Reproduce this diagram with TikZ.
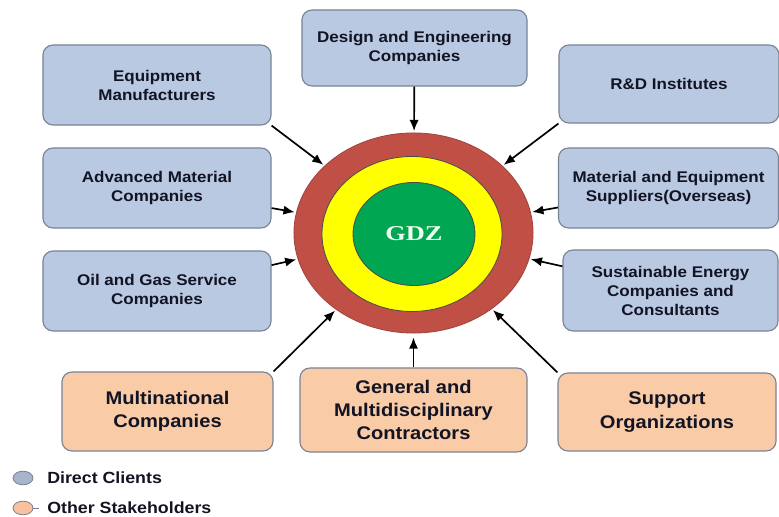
\documentclass[tikz,border=0pt]{standalone}
\usepackage{fontspec}
\setmainfont{Liberation Sans}[FakeStretch=1.1]
\newfontfamily\ringfont{Liberation Serif}[FakeStretch=1.25]
\usetikzlibrary{shapes.geometric,arrows.meta}

\definecolor{clientblue}{RGB}{185,201,226}
\definecolor{otherorange}{RGB}{249,203,166}
\definecolor{boxline}{RGB}{120,132,150}
\definecolor{ringred}{RGB}{192,80,70}
\definecolor{ringyellow}{RGB}{255,255,0}
\definecolor{ringgreen}{RGB}{0,166,81}
\definecolor{textnavy}{RGB}{18,20,36}

\tikzset{
  client/.style={draw=boxline, fill=clientblue, line width=0.8pt, rounded corners=0.25cm,
    align=center, inner sep=0pt, text=textnavy, font=\bfseries\fontsize{11}{13.5}\selectfont},
  other/.style={client, fill=otherorange, font=\bfseries\fontsize{13}{16.5}\selectfont},
  ring/.style={ellipse, inner sep=0pt, line width=0.6pt},
  feed/.style={-{Latex[length=2.8mm,width=2.3mm]}, line width=1.2pt, shorten >=1pt},
  key/.style={ellipse, draw=boxline, line width=0.6pt, minimum width=0.5cm, minimum height=0.34cm, inner sep=0pt},
}

\begin{document}
\begin{tikzpicture}[x=0.025cm, y=-0.025cm]
    \useasboundingbox (0,0) rectangle (779,517);

    % the three rings
    \node[ring, draw=ringred!85!black, fill=ringred, minimum width=5.975cm, minimum height=5cm] (outer) at (413.5,233) {};
    \node[ring, draw=black!70, fill=ringyellow, minimum width=4.5cm, minimum height=3.875cm] (middle) at (412,234) {};
    \node[ring, draw=black!70, fill=ringgreen, minimum width=3.05cm, minimum height=2.575cm,
      text=green!6, font=\ringfont\bfseries\fontsize{15}{18}\selectfont] (gdz) at (414,234) {GDZ};

    % direct clients
    \node[client, minimum width=5.7cm, minimum height=2cm] (equip) at (157,85) {Equipment\\Manufacturers};
    \node[client, minimum width=5.625cm, minimum height=1.9cm] (design) at (414.5,48) {Design and Engineering\\Companies};
    \node[client, minimum width=5.5cm, minimum height=1.95cm] (rnd) at (669,84) {R\&D Institutes};
    \node[client, minimum width=5.7cm, minimum height=2cm] (advmat) at (157,188) {Advanced Material\\Companies};
    \node[client, minimum width=5.5cm, minimum height=2cm] (matsup) at (668.5,188) {Material and Equipment\\Suppliers(Overseas)};
    \node[client, minimum width=5.7cm, minimum height=2cm] (oilgas) at (157,291) {Oil and Gas Service\\Companies};
    \node[client, minimum width=5.375cm, minimum height=2.025cm] (energy) at (670.5,290.5) {Sustainable Energy\\Companies and\\Consultants};

    % other stakeholders
    \node[other, minimum width=5.275cm, minimum height=1.975cm] (multi) at (167.5,411.5) {Multinational\\Companies};
    \node[other, minimum width=5.675cm, minimum height=2.1cm] (general) at (413.5,410) {General and\\Multidisciplinary\\Contractors};
    \node[other, minimum width=5.45cm, minimum height=1.95cm] (support) at (667,412) {Support\\Organizations};

    % arrows into the rings
    \draw[feed] (equip.south east) -- (outer);
    \draw[feed] (design) -- (outer);
    \draw[feed] (rnd.south west) -- (outer);
    \draw[feed] (advmat) -- (outer);
    \draw[feed] (matsup) -- (outer);
    \draw[feed] (oilgas) -- (outer);
    \draw[feed] (energy) -- (outer);
    \draw[feed] (multi.north east) -- (outer);
    \draw[feed, shorten >=0.1cm] (general) -- (outer);
    \draw[feed] (support.north west) -- (outer);

    % legend
    \node[key, fill=clientblue!90!black] (keyclient) at (23,478) {};
    \node[key, fill=otherorange!95!red] (keyother) at (23,508) {};
    \draw[boxline, line width=0.6pt] (keyother.east) -- ++(6,0);
    \node[anchor=west, inner sep=0pt, text=textnavy, font=\bfseries\fontsize{11.5}{13}\selectfont] (keyclienttext) at (47,478) {Direct Clients};
    \node[anchor=west, inner sep=0pt, text=textnavy, font=\bfseries\fontsize{11.5}{13}\selectfont] (keyothertext) at (47,508) {Other Stakeholders};
\end{tikzpicture}
\end{document}
